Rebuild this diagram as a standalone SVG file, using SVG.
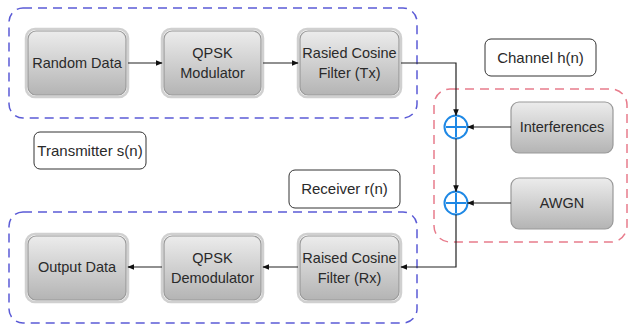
<svg xmlns="http://www.w3.org/2000/svg" width="629" height="326" viewBox="0 0 629 326">
<defs>
<linearGradient id="g" x1="0" y1="0" x2="0" y2="1">
<stop offset="0" stop-color="#ececec"/>
<stop offset="1" stop-color="#b4b4b4"/>
</linearGradient>
<marker id="ah" viewBox="0 0 10 10" refX="9" refY="5" markerWidth="7" markerHeight="7" orient="auto" markerUnits="userSpaceOnUse">
<path d="M0,1 L10,5 L0,9 z" fill="#111"/>
</marker>
<style>
.box{fill:url(#g);stroke:#999;stroke-width:1.2}
.ring{fill:none;stroke:#d0d0d0;stroke-width:2.5}
.t{font-family:"Liberation Sans",Arial,sans-serif;font-size:14.5px;fill:#2a2a2a;text-anchor:middle}
.tl{font-size:15px}
.lab{fill:#fff;stroke:#333;stroke-width:1}
.blue{fill:none;stroke:#5b5bd6;stroke-width:1.5;stroke-dasharray:9 6}
.red{fill:none;stroke:#e87c8c;stroke-width:1.5;stroke-dasharray:9 6}
.c{fill:none;stroke:#222;stroke-width:1.2}
.sum{fill:#fff;stroke:#1e88e5;stroke-width:2}
.plus{stroke:#1e88e5;stroke-width:2}
</style>
</defs>
<rect width="629" height="326" fill="#fff"/>
<g id="tx-group"><rect class="blue" x="9" y="8" width="408" height="110" rx="14"/></g>
<g id="rx-group"><rect class="blue" x="9" y="212" width="408" height="111" rx="14"/></g>
<g id="channel-group"><rect class="red" x="434" y="89" width="193" height="153" rx="16"/></g>

<g id="random-data"><rect class="ring" x="26" y="29" width="102" height="68" rx="9"/><rect class="box" x="28" y="31" width="98" height="64" rx="8"/><text class="t" x="77" y="68">Random Data</text></g>
<g id="qpsk-mod"><rect class="ring" x="162" y="29" width="101" height="68" rx="9"/><rect class="box" x="164" y="31" width="97" height="64" rx="8"/><text class="t" x="212.5" y="58">QPSK</text><text class="t" x="212.5" y="78">Modulator</text></g>
<g id="rc-tx"><rect class="ring" x="298" y="29" width="103" height="68" rx="9"/><rect class="box" x="300" y="31" width="99" height="64" rx="8"/><text class="t" x="349.5" y="58">Rasied Cosine</text><text class="t" x="349.5" y="78">Filter (Tx)</text></g>

<g id="output-data"><rect class="ring" x="26" y="234" width="102" height="68" rx="9"/><rect class="box" x="28" y="236" width="98" height="64" rx="8"/><text class="t" x="77" y="272">Output Data</text></g>
<g id="qpsk-demod"><rect class="ring" x="162" y="234" width="101" height="68" rx="9"/><rect class="box" x="164" y="236" width="97" height="64" rx="8"/><text class="t" x="212.5" y="263">QPSK</text><text class="t" x="212.5" y="283">Demodulator</text></g>
<g id="rc-rx"><rect class="ring" x="298" y="234" width="103" height="68" rx="9"/><rect class="box" x="300" y="236" width="99" height="64" rx="8"/><text class="t" x="349.5" y="263">Raised Cosine</text><text class="t" x="349.5" y="283">Filter (Rx)</text></g>

<g id="interferences"><rect class="box" x="511" y="102" width="102" height="51" rx="8"/><text class="t" x="562" y="132">Interferences</text></g>
<g id="awgn"><rect class="box" x="511" y="178" width="102" height="51" rx="8"/><text class="t" x="562" y="208">AWGN</text></g>

<g id="sum1"><circle class="sum" cx="456" cy="127" r="11.5"/><line class="plus" x1="446" y1="127" x2="466" y2="127"/><line class="plus" x1="456" y1="117" x2="456" y2="137"/></g>
<g id="sum2"><circle class="sum" cx="456" cy="203" r="11.5"/><line class="plus" x1="446" y1="203" x2="466" y2="203"/><line class="plus" x1="456" y1="193" x2="456" y2="213"/></g>

<g id="channel-label"><rect class="lab" x="485" y="39" width="111" height="37" rx="6"/><text class="t tl" x="540.5" y="63">Channel h(n)</text></g>
<g id="transmitter-label"><rect class="lab" x="34" y="132" width="112" height="37" rx="6"/><text class="t tl" x="90" y="156">Transmitter s(n)</text></g>
<g id="receiver-label"><rect class="lab" x="289" y="170" width="111" height="38" rx="6"/><text class="t tl" x="344.5" y="194">Receiver r(n)</text></g>

<g id="connectors">
<path class="c" d="M128,63 H162" marker-end="url(#ah)"/>
<path class="c" d="M263,63 H298" marker-end="url(#ah)"/>
<path class="c" d="M401,63 H456 V115.5" marker-end="url(#ah)"/>
<path class="c" d="M511,127 H467.5" marker-end="url(#ah)"/>
<path class="c" d="M456,138.5 V191.5" marker-end="url(#ah)"/>
<path class="c" d="M511,203 H467.5" marker-end="url(#ah)"/>
<path class="c" d="M456,214.5 V267 H401" marker-end="url(#ah)"/>
<path class="c" d="M298,267 H263" marker-end="url(#ah)"/>
<path class="c" d="M162,267 H128" marker-end="url(#ah)"/>
</g>
</svg>
